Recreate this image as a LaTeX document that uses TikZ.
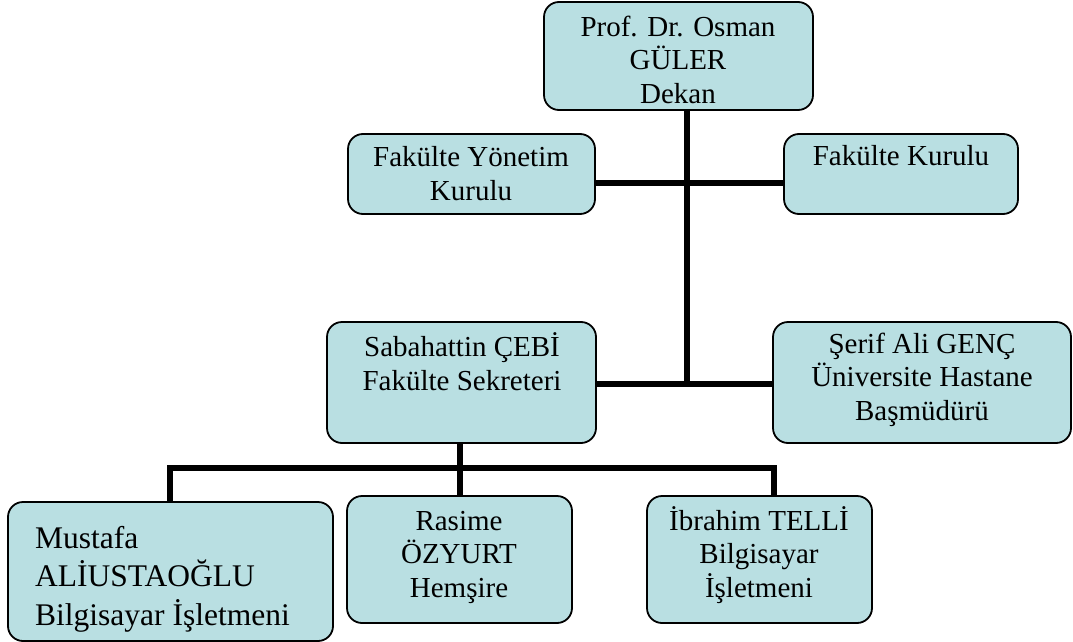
\documentclass[tikz,border=0pt]{standalone}
\usepackage{fontspec}
\setmainfont{Liberation Serif}
\definecolor{boxfill}{RGB}{185,223,226}
\tikzset{
  orgbox/.style={draw=black, line width=1.8pt, fill=boxfill, rounded corners=15pt},
  txt/.style={anchor=base, align=center, inner sep=0pt, font=\fontsize{29}{33.5}\selectfont},
  bigtxt/.style={anchor=base west, align=left, inner sep=0pt, font=\fontsize{31.5}{38.5}\selectfont},
  conn/.style={line width=5.5pt, black}
}
\begin{document}
\begin{tikzpicture}[x=1pt, y=-1pt]
\useasboundingbox (0,0) rectangle (1073,642);
\coordinate (j1) at (687,183);
\coordinate (j2) at (687,384);
\coordinate (j3) at (460,468);
\coordinate (jl) at (170,468);
\coordinate (jr) at (774,468);
% boxes
\path[orgbox] (544,2) rectangle (813,110);
\node[inner sep=0pt, minimum width=269pt, minimum height=108pt] (dekan) at (678.5,56) {};
\path[orgbox] (348,134) rectangle (595,214);
\node[inner sep=0pt, minimum width=247pt, minimum height=80pt] (fyk) at (471.5,174) {};
\path[orgbox] (784,134) rectangle (1018,214);
\node[inner sep=0pt, minimum width=234pt, minimum height=80pt] (fk) at (901,174) {};
\path[orgbox] (327,322) rectangle (596,443);
\node[inner sep=0pt, minimum width=269pt, minimum height=121pt] (sek) at (461.5,382.5) {};
\path[orgbox] (773,322) rectangle (1071,443);
\node[inner sep=0pt, minimum width=298pt, minimum height=121pt] (hast) at (922,382.5) {};
\path[orgbox] (8,502) rectangle (333,641);
\node[inner sep=0pt, minimum width=325pt, minimum height=139pt] (must) at (170.5,571.5) {};
\path[orgbox] (347,496) rectangle (572,623);
\node[inner sep=0pt, minimum width=225pt, minimum height=127pt] (ras) at (459.5,559.5) {};
\path[orgbox] (647,496) rectangle (872,623);
\node[inner sep=0pt, minimum width=225pt, minimum height=127pt] (ibr) at (759.5,559.5) {};
% connectors
\draw[conn] (dekan.south -| j1) -- (j2);
\draw[conn] (fyk.east |- j1) -- (fk.west |- j1);
\draw[conn] (sek.east |- j2) -- (hast.west |- j2);
\draw[conn] (sek.south -| j3) -- (ras.north -| j3);
\draw[conn] ([xshift=-2.75pt]jl) -- ([xshift=2.75pt]jr);
\draw[conn] (jl) -- (must.north -| jl);
\draw[conn] (jr) -- (ibr.north -| jr);
% texts (anchor base = baseline of last line)
\node[txt] (t1) at (678,103) {Prof. Dr. Osman\\GÜLER\\Dekan};
\node[txt] (t2) at (471,200) {Fakülte Yönetim\\Kurulu};
\node[txt] (t3) at (901,165) {Fakülte Kurulu};
\node[txt] (t4) at (462,390) {Sabahattin ÇEBİ\\Fakülte Sekreteri};
\node[txt] (t5) at (922,420) {Şerif Ali GENÇ\\Üniversite Hastane\\Başmüdürü};
\node[bigtxt] (t6) at (35,625) {Mustafa\\ALİUSTAOĞLU\\Bilgisayar İşletmeni};
\node[txt] (t7) at (459,597) {Rasime\\ÖZYURT\\Hemşire};
\node[txt] (t8) at (759,597) {İbrahim TELLİ\\Bilgisayar\\İşletmeni};
\end{tikzpicture}
\end{document}
